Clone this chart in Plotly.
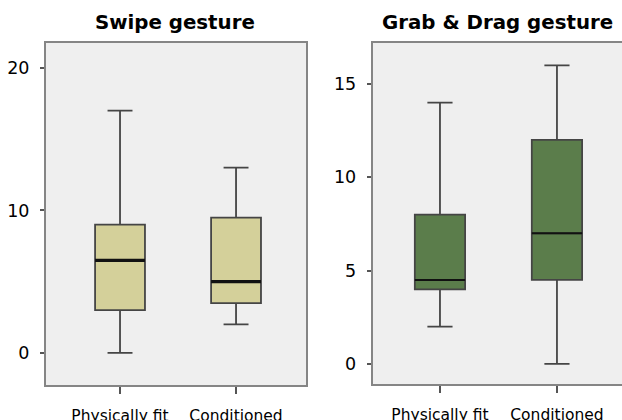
import plotly.graph_objects as go

categories = ["Physically fit", "Conditioned"]

swipe_lower = [0, 2]
swipe_q1 = [3, 3.5]
swipe_median = [6.5, 5]
swipe_q3 = [9, 9.5]
swipe_upper = [17, 13]

grab_lower = [2, 0]
grab_q1 = [4, 4.5]
grab_median = [4.5, 7]
grab_q3 = [8, 12]
grab_upper = [14, 16]

swipe_ticks = [0, 10, 20]
grab_ticks = [0, 5, 10, 15]

titles = ["Swipe gesture", "Grab & Drag gesture"]

fig = go.Figure()

def add_panel(xa, ya, lower, q1, med, q3, upper, fill, med_w):
    fig.add_trace(go.Box(
        x=categories, lowerfence=lower, q1=q1, median=med, q3=q3, upperfence=upper,
        fillcolor=fill, line=dict(color="#454545", width=1.8),
        width=0.43, whiskerwidth=0.5, boxpoints=False, showlegend=False,
        hoverinfo="skip", xaxis=xa, yaxis=ya))
    fig.add_trace(go.Box(
        x=categories, lowerfence=med, q1=med, median=med, q3=med, upperfence=med,
        fillcolor="rgba(0,0,0,0)", line=dict(color="#111111", width=med_w),
        width=0.43, whiskerwidth=0, boxpoints=False, showlegend=False,
        hoverinfo="skip", xaxis=xa, yaxis=ya))

add_panel("x", "y", swipe_lower, swipe_q1, swipe_median, swipe_q3, swipe_upper, "#d4d09a", 3.2)
add_panel("x2", "y2", grab_lower, grab_q1, grab_median, grab_q3, grab_upper, "#5b7d4b", 2)

axis_common = dict(showgrid=False, zeroline=False, showline=True, linecolor="#858585",
                   linewidth=2, ticks="outside", tickcolor="#555555", tickwidth=2,
                   automargin=False)

fig.update_layout(
    width=622, height=420,
    margin=dict(l=0, r=0, t=0, b=0),
    paper_bgcolor="white", plot_bgcolor="#efefef",
    font=dict(family="DejaVu Sans", color="black"),
    xaxis=dict(domain=[46/622, 306/622], type="category", range=[-0.638, 1.603],
               mirror=True, ticklen=7, tickfont=dict(size=15.5), anchor="y",
               ticklabelstandoff=8, **axis_common),
    yaxis=dict(domain=[35/420, 377/420], range=[-2.25, 21.75], tickvals=swipe_ticks,
               mirror=True, ticklen=4, tickfont=dict(size=17.5), anchor="x",
               ticklabelstandoff=7, **axis_common),
    xaxis2=dict(domain=[372.7/622, 1.0], type="category", range=[-0.575, 1.556],
                mirror=True, ticklen=7, tickfont=dict(size=15.5), anchor="y2",
                ticklabelstandoff=8, **axis_common),
    yaxis2=dict(domain=[35.7/420, 377.3/420], range=[-1.09, 17.21], tickvals=grab_ticks,
                mirror=False, ticklen=4, tickfont=dict(size=17.5), anchor="x2",
                ticklabelstandoff=7, **axis_common),
    annotations=[
        dict(text="<b>%s</b>" % titles[0], x=175/622, y=1-22/420, xref="paper", yref="paper",
             showarrow=False, xanchor="center", yanchor="middle", font=dict(size=19.8)),
        dict(text="<b>%s</b>" % titles[1], x=497/622, y=1-22/420, xref="paper", yref="paper",
             showarrow=False, xanchor="center", yanchor="middle", font=dict(size=19.8)),
    ],
)

fig.write_html("out.html", config={"displayModeBar": False},
               post_script="document.body.style.margin='0';document.body.style.overflow='hidden';")
